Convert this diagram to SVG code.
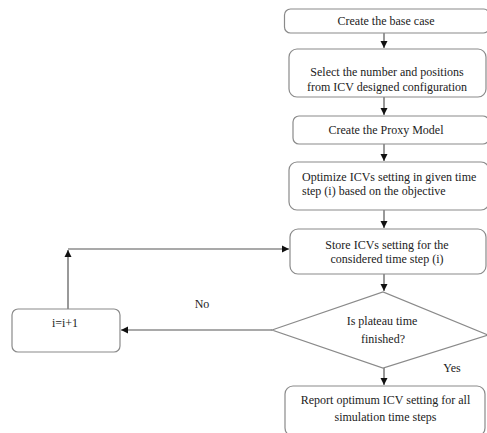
<svg xmlns="http://www.w3.org/2000/svg" width="487" height="433" viewBox="0 0 487 433">
<defs>
<style>
.box{fill:#fff;stroke:#8a8a8a;stroke-width:1.2}
.t{font-family:"Liberation Serif","Times New Roman",serif;font-size:12px;fill:#222}
.c{text-anchor:middle}
.ln{fill:none;stroke:#555;stroke-width:1.2}
</style>
<marker id="ah" markerWidth="8" markerHeight="8" refX="7" refY="4" orient="auto" markerUnits="userSpaceOnUse">
<path d="M0,0.5 L7,4 L0,7.5 Z" fill="#111"/>
</marker>
</defs>
<rect width="487" height="433" fill="#fff"/>
<g id="connectors">
<line class="ln" x1="384" y1="33" x2="384" y2="48" marker-end="url(#ah)"/>
<line class="ln" x1="384" y1="97" x2="384" y2="115" marker-end="url(#ah)"/>
<line class="ln" x1="384" y1="144" x2="384" y2="161" marker-end="url(#ah)"/>
<line class="ln" x1="384" y1="210" x2="384" y2="228" marker-end="url(#ah)"/>
<line class="ln" x1="384" y1="274" x2="384" y2="291" marker-end="url(#ah)"/>
<line class="ln" x1="384" y1="368" x2="384" y2="385" marker-end="url(#ah)"/>
<line class="ln" x1="272" y1="330" x2="121" y2="330" marker-end="url(#ah)"/>
<line class="ln" x1="68" y1="309" x2="68" y2="250" marker-end="url(#ah)"/>
<line class="ln" x1="68" y1="249" x2="289" y2="249" marker-end="url(#ah)"/>
<text class="t c" x="202" y="308">No</text>
<text class="t c" x="452" y="372">Yes</text>
</g>
<g id="n1"><rect class="box" x="284.5" y="9" width="205" height="24" rx="6"/>
<text class="t c" x="386" y="25">Create the base case</text></g>
<g id="n2"><rect class="box" x="289" y="49" width="197" height="48" rx="8"/>
<text class="t c" x="387" y="76">Select the number and positions</text>
<text class="t c" x="387" y="91">from ICV designed configuration</text></g>
<g id="n3"><rect class="box" x="293" y="116" width="196" height="28" rx="6"/>
<text class="t c" x="386" y="134">Create the Proxy Model</text></g>
<g id="n4"><rect class="box" x="289" y="162" width="200" height="48" rx="8"/>
<text class="t" x="302" y="181">Optimize ICVs setting in given time</text>
<text class="t" x="302" y="195">step (i) based on the objective</text></g>
<g id="n5"><rect class="box" x="290" y="229" width="196" height="45" rx="8"/>
<text class="t c" x="387" y="249">Store ICVs setting for the</text>
<text class="t c" x="387" y="263">considered time step (i)</text></g>
<g id="n6"><polygon class="box" points="272,330 383,292 488,335 383,368"/>
<text class="t c" x="382" y="325">Is plateau time</text>
<text class="t c" x="383" y="343">finished?</text></g>
<g id="n7"><rect class="box" x="285" y="386" width="200" height="50" rx="8"/>
<text class="t c" x="385.5" y="404">Report optimum ICV setting for all</text>
<text class="t c" x="385.5" y="421">simulation time steps</text></g>
<g id="n8"><rect class="box" x="12" y="309" width="108" height="43" rx="6"/>
<text class="t c" x="65" y="327">i=i+1</text></g>
</svg>
